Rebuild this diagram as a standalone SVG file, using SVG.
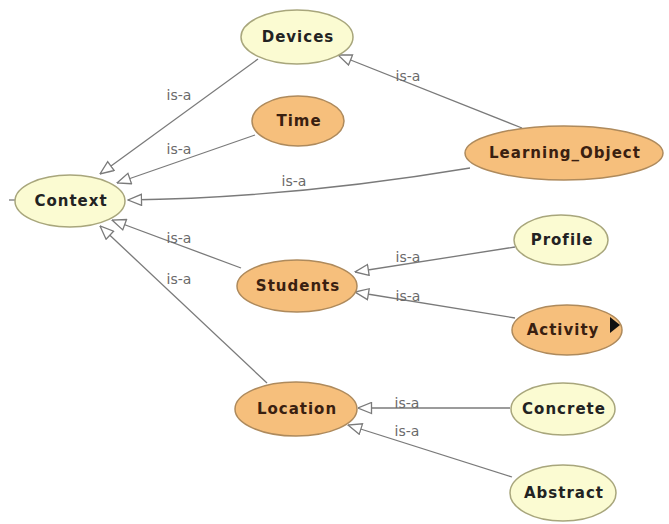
<svg xmlns="http://www.w3.org/2000/svg" width="669" height="524" viewBox="0 0 669 524">
<style>
.y{fill:#fbfbd2;stroke:#a8a67c;stroke-width:1.5}
.o{fill:#f6bf7c;stroke:#ae8a5c;stroke-width:1.5}
.t{font-family:"DejaVu Sans",Verdana,sans-serif;font-weight:bold;font-size:15px;text-anchor:middle;letter-spacing:1px}
.ty{fill:#222222}
.to{fill:#3a2010}
.e{fill:none;stroke:#7a7a7a;stroke-width:1.3;marker-end:url(#tri)}
.l{font-family:"DejaVu Sans",Verdana,sans-serif;font-size:14px;fill:#6a6a6a}
</style>
<defs>
<marker id="tri" viewBox="0 0 15 13" refX="14.5" refY="6.5" markerWidth="15" markerHeight="13" markerUnits="userSpaceOnUse" orient="auto">
<path d="M1,1 L14.5,6.5 L1,12 Z" fill="#ffffff" stroke="#7a7a7a" stroke-width="1.3"/>
</marker>
</defs>
<rect width="669" height="524" fill="#ffffff"/>
<g id="connectors">
<path class="e" d="M258,59 L100,174"/>
<path class="e" d="M255,135 L117,183"/>
<path class="e" d="M470,168 Q290,198 128,200"/>
<path class="e" d="M241,268 L112,220"/>
<path class="e" d="M267,383 L100,226"/>
<path class="e" d="M522,128 L338,55"/>
<path class="e" d="M515,247 L355,272"/>
<path class="e" d="M515,318 L355,292"/>
<path class="e" d="M510,408 L358,408"/>
<path class="e" d="M512,477 L348,425"/>
<text class="l" x="179" y="100" text-anchor="middle">is-a</text>
<text class="l" x="179" y="154" text-anchor="middle">is-a</text>
<text class="l" x="294" y="186" text-anchor="middle">is-a</text>
<text class="l" x="179" y="243" text-anchor="middle">is-a</text>
<text class="l" x="179" y="284" text-anchor="middle">is-a</text>
<text class="l" x="408" y="81" text-anchor="middle">is-a</text>
<text class="l" x="408" y="262" text-anchor="middle">is-a</text>
<text class="l" x="408" y="301" text-anchor="middle">is-a</text>
<text class="l" x="407" y="408" text-anchor="middle">is-a</text>
<text class="l" x="407" y="436" text-anchor="middle">is-a</text>
</g>
<g id="Context">
<line x1="9" y1="200" x2="15" y2="200" stroke="#7a7a7a" stroke-width="1.3"/>
<ellipse class="y" cx="70" cy="201" rx="55" ry="26"/>
<text class="t ty" x="71" y="206">Context</text>
</g>
<g id="Devices">
<ellipse class="y" cx="297" cy="37" rx="56" ry="27"/>
<text class="t ty" x="298" y="42">Devices</text>
</g>
<g id="Time">
<ellipse class="o" cx="298" cy="121" rx="46" ry="25"/>
<text class="t to" x="299" y="126">Time</text>
</g>
<g id="Learning_Object">
<ellipse class="o" cx="564" cy="153" rx="99" ry="27"/>
<text class="t to" x="565" y="158">Learning_Object</text>
</g>
<g id="Students">
<ellipse class="o" cx="297" cy="286" rx="60" ry="26"/>
<text class="t to" x="298" y="291">Students</text>
</g>
<g id="Profile">
<ellipse class="y" cx="561" cy="240" rx="47" ry="25"/>
<text class="t ty" x="562" y="245">Profile</text>
</g>
<g id="Activity">
<ellipse class="o" cx="567" cy="330" rx="55" ry="25"/>
<text class="t to" x="563" y="335">Activity</text>
<polygon points="610,317 620,325 610,333" fill="#111111"/>
</g>
<g id="Location">
<ellipse class="o" cx="296" cy="409" rx="61" ry="27"/>
<text class="t to" x="297" y="414">Location</text>
</g>
<g id="Concrete">
<ellipse class="y" cx="563" cy="409" rx="52" ry="26"/>
<text class="t ty" x="564" y="414">Concrete</text>
</g>
<g id="Abstract">
<ellipse class="y" cx="563" cy="493" rx="53" ry="28"/>
<text class="t ty" x="564" y="498">Abstract</text>
</g>
</svg>
